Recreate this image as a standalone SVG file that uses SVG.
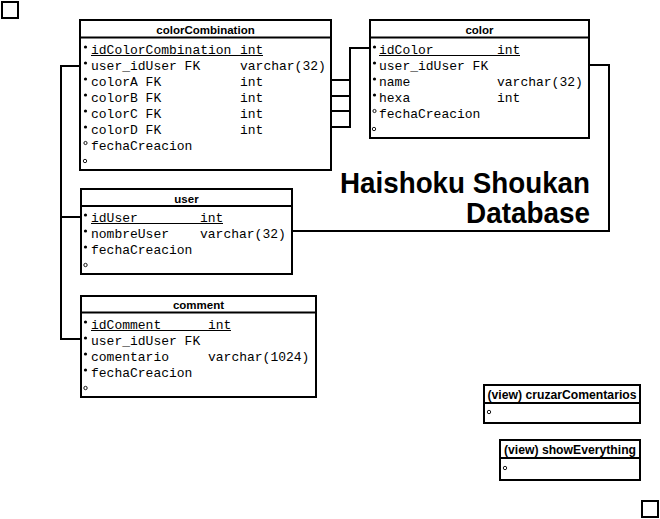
<svg xmlns="http://www.w3.org/2000/svg" width="660" height="519" viewBox="0 0 660 519">
<style>
.box{fill:#fff;stroke:#000;stroke-width:2}
.ln{fill:none;stroke:#000;stroke-width:2}
.hd{font-family:"Liberation Sans",Arial,sans-serif;font-weight:bold;font-size:11.5px;text-anchor:middle;fill:#000}
.vw{font-family:"Liberation Sans",Arial,sans-serif;font-weight:bold;font-size:12.2px;text-anchor:middle;fill:#000}
.m{font-family:"Liberation Mono","Courier New",monospace;font-size:13px;fill:#000;white-space:pre}
.ul{stroke:#000;stroke-width:1}
.b{fill:#000}
.h{fill:none;stroke:#000;stroke-width:0.9}
.title{font-family:"Liberation Sans",Arial,sans-serif;font-weight:bold;font-size:30px;text-anchor:end;fill:#000}
</style>
<rect x="2" y="2" width="16" height="16" class="box"/>
<rect x="642" y="501" width="16" height="16" class="box"/>
<g id="connectors">
<polyline class="ln" points="80,66 61,66 61,339 81,339"/>
<line class="ln" x1="61" y1="217" x2="81" y2="217"/>
<polyline class="ln" points="292,231 609,231 609,65 589,65"/>
<polyline class="ln" points="370,48 350,48 350,127"/>
<line class="ln" x1="331" y1="80" x2="351" y2="80"/>
<line class="ln" x1="331" y1="96" x2="351" y2="96"/>
<line class="ln" x1="331" y1="111" x2="351" y2="111"/>
<line class="ln" x1="331" y1="127" x2="351" y2="127"/>
</g>
<g id="colorCombination">
<rect x="80" y="20" width="251" height="150" class="box"/>
<line class="ln" x1="80" y1="37.5" x2="331" y2="37.5"/>
<text class="hd" x="205.5" y="34">colorCombination</text>
<circle class="b" cx="85.5" cy="47" r="1.6"/><text class="m" x="91" y="54">idColorCombination</text><text class="m" x="240" y="54">int</text>
<line class="ul" x1="91" y1="55.5" x2="263" y2="55.5"/>
<circle class="b" cx="85.5" cy="63" r="1.6"/><text class="m" x="91" y="70">user_idUser FK</text><text class="m" x="240" y="70">varchar(32)</text>
<circle class="b" cx="85.5" cy="79" r="1.6"/><text class="m" x="91" y="86">colorA FK</text><text class="m" x="240" y="86">int</text>
<circle class="b" cx="85.5" cy="95" r="1.6"/><text class="m" x="91" y="102">colorB FK</text><text class="m" x="240" y="102">int</text>
<circle class="b" cx="85.5" cy="111" r="1.6"/><text class="m" x="91" y="118">colorC FK</text><text class="m" x="240" y="118">int</text>
<circle class="b" cx="85.5" cy="127" r="1.6"/><text class="m" x="91" y="134">colorD FK</text><text class="m" x="240" y="134">int</text>
<circle class="h" cx="85.5" cy="143" r="1.6"/><text class="m" x="91" y="150">fechaCreacion</text>
<circle class="h" cx="85" cy="161" r="1.7"/>
</g>
<g id="color">
<rect x="370" y="20" width="219" height="118" class="box"/>
<line class="ln" x1="370" y1="37.5" x2="589" y2="37.5"/>
<text class="hd" x="479.5" y="34">color</text>
<circle class="b" cx="374.5" cy="47" r="1.6"/><text class="m" x="379" y="54">idColor</text><text class="m" x="497" y="54">int</text>
<line class="ul" x1="379" y1="55.5" x2="520" y2="55.5"/>
<circle class="b" cx="374.5" cy="63" r="1.6"/><text class="m" x="379" y="70">user_idUser FK</text>
<circle class="b" cx="374.5" cy="79" r="1.6"/><text class="m" x="379" y="86">name</text><text class="m" x="497" y="86">varchar(32)</text>
<circle class="b" cx="374.5" cy="95" r="1.6"/><text class="m" x="379" y="102">hexa</text><text class="m" x="497" y="102">int</text>
<circle class="h" cx="374.5" cy="111" r="1.6"/><text class="m" x="379" y="118">fechaCreacion</text>
<circle class="h" cx="374" cy="129" r="1.7"/>
</g>
<g id="title">
<text class="title" x="590" y="193" textLength="250" lengthAdjust="spacingAndGlyphs">Haishoku Shoukan</text>
<text class="title" x="590" y="223" textLength="124" lengthAdjust="spacingAndGlyphs">Database</text>
</g>
<g id="user">
<rect x="81" y="189" width="211" height="85" class="box"/>
<line class="ln" x1="81" y1="206" x2="292" y2="206"/>
<text class="hd" x="186.5" y="202.5">user</text>
<circle class="b" cx="85.5" cy="215" r="1.6"/><text class="m" x="91" y="222">idUser</text><text class="m" x="200" y="222">int</text>
<line class="ul" x1="91" y1="223.5" x2="223" y2="223.5"/>
<circle class="b" cx="85.5" cy="231" r="1.6"/><text class="m" x="91" y="238">nombreUser</text><text class="m" x="200" y="238">varchar(32)</text>
<circle class="b" cx="85.5" cy="247" r="1.6"/><text class="m" x="91" y="254">fechaCreacion</text>
<circle class="h" cx="85.5" cy="265" r="1.7"/>
</g>
<g id="comment">
<rect x="81" y="296" width="235" height="101" class="box"/>
<line class="ln" x1="81" y1="312.5" x2="316" y2="312.5"/>
<text class="hd" x="198.5" y="309">comment</text>
<circle class="b" cx="85.5" cy="322" r="1.6"/><text class="m" x="91" y="329">idComment</text><text class="m" x="208" y="329">int</text>
<line class="ul" x1="91" y1="330.5" x2="231" y2="330.5"/>
<circle class="b" cx="85.5" cy="338" r="1.6"/><text class="m" x="91" y="345">user_idUser FK</text>
<circle class="b" cx="85.5" cy="354" r="1.6"/><text class="m" x="91" y="361">comentario</text><text class="m" x="208" y="361">varchar(1024)</text>
<circle class="b" cx="85.5" cy="370" r="1.6"/><text class="m" x="91" y="377">fechaCreacion</text>
<circle class="h" cx="85.5" cy="388" r="1.7"/>
</g>
<g id="cruzarComentarios">
<rect x="484" y="385" width="156" height="38" class="box"/>
<line class="ln" x1="484" y1="403" x2="640" y2="403"/>
<text class="vw" x="562" y="398.5">(view) cruzarComentarios</text>
<circle class="h" cx="489" cy="412" r="1.7"/>
</g>
<g id="showEverything">
<rect x="500" y="440" width="140" height="40" class="box"/>
<line class="ln" x1="500" y1="458" x2="640" y2="458"/>
<text class="vw" x="570" y="453.5">(view) showEverything</text>
<circle class="h" cx="505" cy="468" r="1.7"/>
</g>
</svg>
